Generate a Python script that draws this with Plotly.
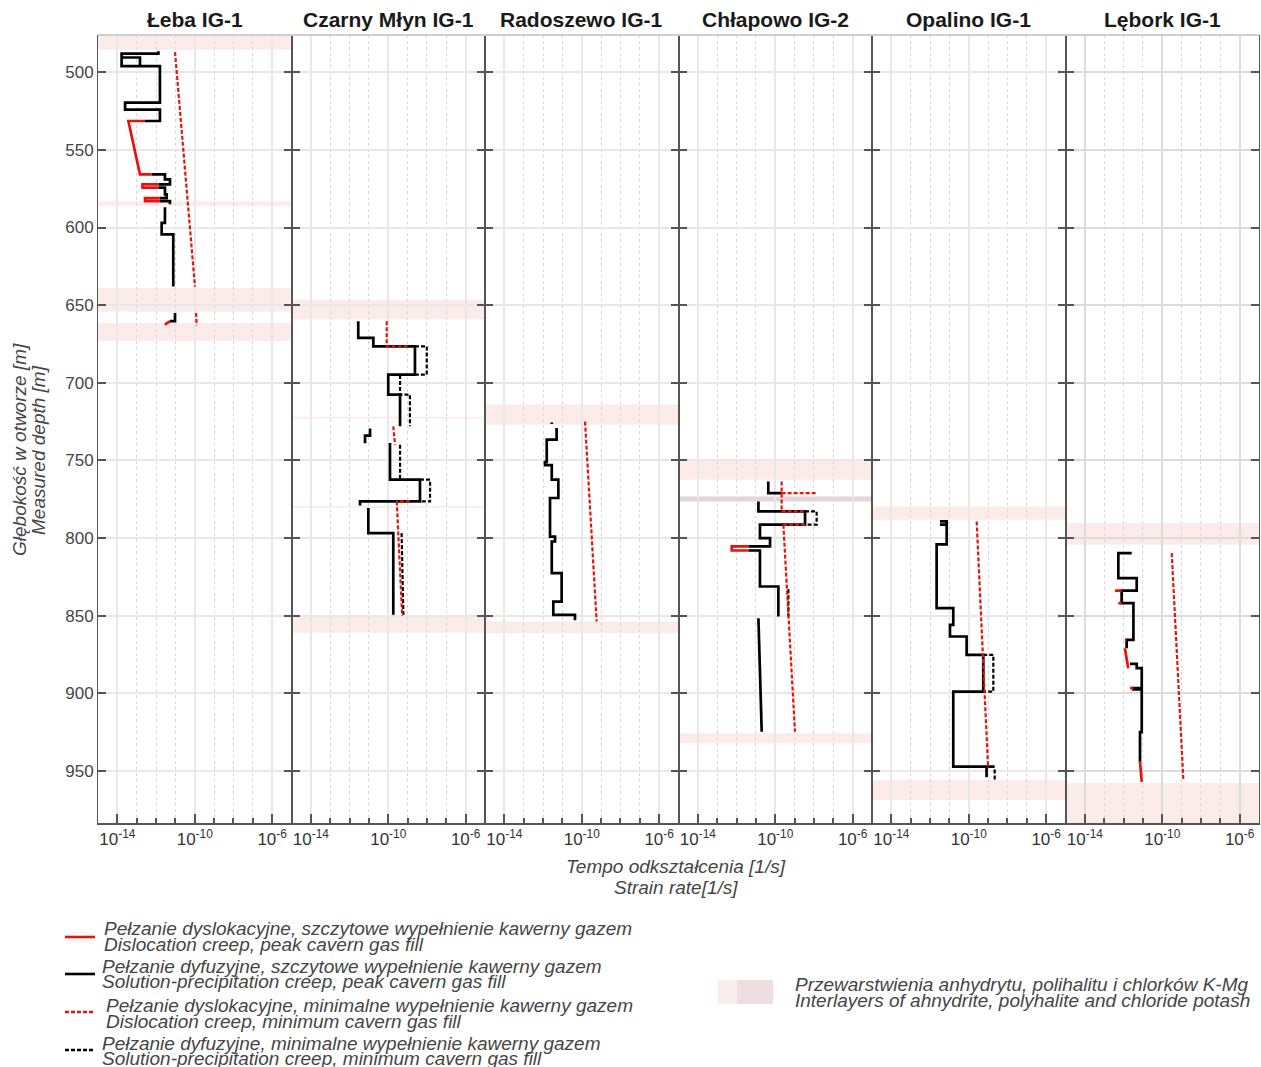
import plotly.graph_objects as go
from plotly.subplots import make_subplots

# ---------------- DATA (log10 strain rate [1/s] vs measured depth [m]) ----------------
WELLS = ["Łeba IG-1", "Czarny Młyn IG-1", "Radoszewo IG-1", "Chłapowo IG-2", "Opalino IG-1", "Lębork IG-1"]

DEPTH_TICKS = [500, 550, 600, 650, 700, 750, 800, 850, 900, 950]
RATE_TICKS = [1e-14, 1e-10, 1e-6]
RATE_TICK_TEXT = ["10<sup>-14</sup>", "10<sup>-10</sup>", "10<sup>-6</sup>"]
RATE_MINOR = [10.0 ** e for e in range(-15, -4)]

# --- Łeba IG-1
leba_sol_peak_d = [486.5, 488, 488, 496, 496, 519.5, 519.5, 524, 524, 531.4, 531.4, None,
                   490.5, 490.5, 496, None,
                   565.8, 565.8, 569, 569, 572.2, 572.2, None,
                   574.3, 574.3, 578.7, 578.7, 581, 581, None,
                   583, 583, 585, None,
                   587, 597, 597, 604.4, 604.4, 638, None,
                   655, 660.3, 660.3]
leba_sol_peak_r = [-11.88, -11.88, -13.78, -13.78, -11.80, -11.80, -13.60, -13.60, -11.80, -11.80, -12.57, None,
                   -13.78, -12.83, -12.83, None,
                   -12.23, -11.54, -11.54, -11.28, -11.28, -11.88, None,
                   -11.88, -11.54, -11.54, -11.45, -11.45, -11.80, None,
                   -11.80, -11.28, -11.28, None,
                   -11.54, -11.54, -11.71, -11.71, -11.11, -11.11, None,
                   -11.02, -11.02, -11.28]
leba_dis_peak_d = [531.4, 531.4, 565.8, 565.8, None, 572.2, 572.2, 574.3, 574.3, None,
                   581, 581, 583, 583, None, 660.3, 662.5]
leba_dis_peak_r = [-12.57, -13.43, -12.83, -12.23, None, -11.88, -12.70, -12.70, -11.88, None,
                   -11.80, -12.57, -12.57, -11.80, None, -11.28, -11.54]
leba_dis_min_d = [487, 638, None, 655, 663]
leba_dis_min_r = [-11.02, -9.99, None, -9.93, -9.90]
leba_sol_min_d = []
leba_sol_min_r = []
leba_bands = [(476, 485.5), (583, 586), (639, 654), (661.5, 673)]

# --- Czarny Młyn IG-1
cm_sol_peak_d = [660.3, 671.1, 671.1, 676.5, 676.5, 694.7, 694.7, 707.6, 707.6, 728, None,
                 729.5, 734, 734, 739, None,
                 738.8, 762.4, 762.4, 776.4, 776.4, 779, None,
                 780.7, 796.8, 796.8, 849.4]
cm_sol_peak_r = [-11.55, -11.55, -10.77, -10.77, -8.62, -8.62, -10.0, -10.0, -9.39, -9.39, None,
                 -10.94, -10.94, -11.20, -11.20, None,
                 -9.91, -9.91, -8.36, -8.36, -11.46, -11.46, None,
                 -11.03, -11.03, -9.74, -9.74]
cm_dis_peak_d = []
cm_dis_peak_r = []
cm_dis_min_d = [660.3, 676.5, 676.5, None, 728, 739.9, None, 776.4, 776.4, None, 776.4, 850]
cm_dis_min_r = [-10.08, -10.08, -9.0, None, -9.74, -9.65, None, -8.88, -9.56, None, -9.56, -9.28]
cm_sol_min_d = [676.5, 676.5, 694.7, 694.7, None, 695, 707.6, 707.6, 728, None, 739.9, 762.4, None,
                762.4, 762.4, 776.4, 776.4, None, 796.8, 849.4]
cm_sol_min_r = [-8.62, -8.01, -8.01, -8.62, None, -9.39, -9.39, -8.88, -8.88, None, -9.39, -9.39, None,
                -8.36, -7.84, -7.84, -8.36, None, -9.31, -9.22]
cm_bands = [(646.5, 659), (721.8, 723), (779.3, 780.5), (850.5, 861)]

# --- Radoszewo IG-1
rad_sol_peak_d = [725.5, 726.5, None, 729.1, 736.6, 736.6, 751, 751, 753, 753, 762.4, 762.4, 774.2, 774.2,
                  799, 799, 802.2, 802.2, 822.6, 822.6, 840.9, 840.9, 849.4, 849.4, 853]
rad_sol_peak_r = [-11.55, -11.55, None, -11.30, -11.30, -11.81, -11.81, -11.90, -11.90, -11.55, -11.55,
                  -11.21, -11.21, -11.64, -11.64, -11.38, -11.38, -11.55, -11.55, -11.04, -11.04, -11.47,
                  -11.47, -10.35, -10.35]
rad_dis_peak_d = []
rad_dis_peak_r = []
rad_dis_min_d = [725, 853.7]
rad_dis_min_r = [-9.83, -9.23]
rad_sol_min_d = []
rad_sol_min_r = []
rad_bands = [(714, 727), (853.7, 861.3)]

# --- Chłapowo IG-2
chl_sol_peak_d = [763.5, 771, 771, None,
                  776.4, 782.8, 782.8, 791.4, 791.4, 800, 800, 805.4, 805.4, None,
                  808, 808, 831.2, 831.2, 850.5, None,
                  851.6, 924.7]
chl_sol_peak_r = [-10.36, -10.36, -9.67, None,
                  -10.87, -10.87, -8.46, -8.46, -10.79, -10.79, -10.27, -10.27, -11.39, None,
                  -11.39, -10.79, -10.79, -9.84, -9.84, None,
                  -10.87, -10.70]
chl_dis_peak_d = [805.4, 805.4, 808, 808]
chl_dis_peak_r = [-11.39, -12.25, -12.25, -11.39]
chl_dis_min_d = [763.5, 782.8, 782.8, None, 771, 771, None, 791.4, 791.4, None, 791.4, 924.7]
chl_dis_min_r = [-9.67, -9.67, -8.46, None, -9.67, -7.86, None, -8.46, -9.58, None, -9.58, -8.98]
chl_sol_min_d = [782.8, 782.8, 791.4, 791.4, None, 833, 850.5]
chl_sol_min_r = [-8.46, -7.86, -7.86, -8.46, None, -9.32, -9.32]
chl_bands = [(749.5, 762.4), (925.7, 932.1)]
chl_dark_bands = [(773.2, 776.4)]

# --- Opalino IG-1
opa_sol_peak_d = [789.3, 789.3, 791.4, 791.4, None,
                  789.3, 804, 804, 845.1, 845.1, 855.9, 855.9, 863.4, 863.4, 875.2, 875.2, 898.9, 898.9,
                  947.2, 947.2, None, 947.5, 954]
opa_sol_peak_r = [-11.49, -11.14, -11.14, -11.49, None,
                  -11.14, -11.14, -11.66, -11.66, -10.80, -10.80, -10.97, -10.97, -10.11, -10.11, -9.25,
                  -9.25, -10.80, -10.80, -8.66, None, -9.08, -9.08]
opa_dis_peak_d = []
opa_dis_peak_r = []
opa_dis_min_d = [789.3, 948]
opa_dis_min_r = [-9.59, -9.0]
opa_sol_min_d = [875.2, 875.2, 898.9, 898.9, None, 949, 956]
opa_sol_min_r = [-9.25, -8.73, -8.73, -9.25, None, -8.66, -8.66]
opa_bands = [(779.6, 788.2), (955.8, 968.7)]

# --- Lębork IG-1
leb_sol_peak_d = [809.7, 809.7, 825.8, 825.8, 833.8, 833.8, 841.9, 841.9, 865.5, 865.5, 871, None,
                  881, 881, 883.8, 883.8, 896.7, 896.7, 897.5, 897.5, 925, 925, 944]
leb_sol_peak_r = [-11.58, -12.27, -12.27, -11.32, -11.32, -12.10, -12.10, -11.49, -11.49, -11.84, -11.84, None,
                  -11.67, -11.32, -11.32, -11.06, -11.06, -11.49, -11.49, -11.06, -11.06, -11.15, -11.15]
leb_dis_peak_d = [833.8, 833.8, None, 841.9, 841.9, None, 865.5, 865.5, None, 871, 883.8, None,
                  896.7, 896.7, None, 944, 957]
leb_dis_peak_r = [-12.10, -12.44, None, -12.10, -12.27, None, -11.84, -11.93, None, -11.93, -11.76, None,
                  -11.49, -11.67, None, -11.15, -11.06]
leb_dis_min_d = [809.7, 955.8]
leb_dis_min_r = [-9.51, -8.91]
leb_sol_min_d = []
leb_sol_min_r = []
leb_bands = [(790.3, 804.3), (957.8, 990)]

SERIES = [
    (leba_sol_peak_d, leba_sol_peak_r, leba_dis_peak_d, leba_dis_peak_r, leba_dis_min_d, leba_dis_min_r, leba_sol_min_d, leba_sol_min_r, leba_bands, []),
    (cm_sol_peak_d, cm_sol_peak_r, cm_dis_peak_d, cm_dis_peak_r, cm_dis_min_d, cm_dis_min_r, cm_sol_min_d, cm_sol_min_r, cm_bands, []),
    (rad_sol_peak_d, rad_sol_peak_r, rad_dis_peak_d, rad_dis_peak_r, rad_dis_min_d, rad_dis_min_r, rad_sol_min_d, rad_sol_min_r, rad_bands, []),
    (chl_sol_peak_d, chl_sol_peak_r, chl_dis_peak_d, chl_dis_peak_r, chl_dis_min_d, chl_dis_min_r, chl_sol_min_d, chl_sol_min_r, chl_bands, chl_dark_bands),
    (opa_sol_peak_d, opa_sol_peak_r, opa_dis_peak_d, opa_dis_peak_r, opa_dis_min_d, opa_dis_min_r, opa_sol_min_d, opa_sol_min_r, opa_bands, []),
    (leb_sol_peak_d, leb_sol_peak_r, leb_dis_peak_d, leb_dis_peak_r, leb_dis_min_d, leb_dis_min_r, leb_sol_min_d, leb_sol_min_r, leb_bands, []),
]

LEGEND_LINES = [
    ("Pełzanie dyslokacyjne, szczytowe wypełnienie kawerny gazem", "Dislocation creep, peak cavern gas fill"),
    ("Pełzanie dyfuzyjne, szczytowe wypełnienie kawerny gazem", "Solution-precipitation creep, peak cavern gas fill"),
    ("Pełzanie dyslokacyjne, minimalne wypełnienie kawerny gazem", "Dislocation creep, minimum cavern gas fill"),
    ("Pełzanie dyfuzyjne, minimalne wypełnienie kawerny gazem", "Solution-precipitation creep, minimum cavern gas fill"),
]
BAND_LEGEND = ("Przewarstwienia anhydrytu, polihalitu i chlorków K-Mg",
               "Interlayers of ahnydrite, polyhalite and chloride potash")

# ---------------- FIGURE ----------------
W, H = 1261, 1067
L, R, T, B = 98, 1259, 35, 823


def px(x):
    return (x - L) / (R - L)


def py(y):
    return (B - y) / (B - T)


def pw(vals):
    return [None if v is None else 10.0 ** v for v in vals]


FONT = "Liberation Sans, Arial, sans-serif"
BAND_COLOR = "rgb(251,236,233)"
DARK_BAND_COLOR = "rgb(228,212,218)"
TXT = "#454545"

fig = make_subplots(rows=1, cols=6, shared_yaxes=True, horizontal_spacing=0)

dot = "4px,2px"
for i, (spd, spr, dpd, dpr, dmd, dmr, smd, smr, bands, dbands) in enumerate(SERIES, start=1):
    if smd:
        fig.add_trace(go.Scatter(x=pw(smr), y=smd, mode="lines", connectgaps=False,
                                 line=dict(color="black", width=2.2, dash=dot), showlegend=False), row=1, col=i)
    fig.add_trace(go.Scatter(x=pw(spr), y=spd, mode="lines", connectgaps=False,
                             line=dict(color="black", width=2.7), showlegend=False), row=1, col=i)
    if dpd:
        fig.add_trace(go.Scatter(x=pw(dpr), y=dpd, mode="lines", connectgaps=False,
                                 line=dict(color="#e8120c", width=2.7), showlegend=False), row=1, col=i)
    fig.add_trace(go.Scatter(x=pw(dmr), y=dmd, mode="lines", connectgaps=False,
                             line=dict(color="#e8120c", width=2.2, dash=dot), showlegend=False), row=1, col=i)
    xr = "x domain" if i == 1 else f"x{i} domain"
    yr = "y" if i == 1 else f"y{i}"
    for (a, b) in bands:
        fig.add_shape(type="rect", xref=xr, yref=yr, x0=0, x1=1, y0=a, y1=b,
                      fillcolor=BAND_COLOR, line=dict(width=0), layer="below")
    for (a, b) in dbands:
        fig.add_shape(type="rect", xref=xr, yref=yr, x0=0, x1=1, y0=a, y1=b,
                      fillcolor=DARK_BAND_COLOR, line=dict(width=0), layer="below")

fig.update_xaxes(type="log", range=[-15, -5], tickvals=RATE_TICKS, ticktext=RATE_TICK_TEXT,
                 ticks="inside", ticklen=9, tickwidth=2, tickcolor="#555",
                 showline=True, linecolor="#555", linewidth=2, mirror=False,
                 showgrid=True, gridcolor="#e8e8e8", gridwidth=2,
                 tickfont=dict(family=FONT, size=17, color="#333"),
                 minor=dict(tickvals=RATE_MINOR, ticks="inside", ticklen=5, tickwidth=1.5, tickcolor="#555",
                            showgrid=True, gridcolor="#d8d8d8", griddash="dot", gridwidth=1),
                 zeroline=False)
fig.update_yaxes(range=[983.5, 476], tickvals=DEPTH_TICKS, ticks="inside", ticklen=8, tickwidth=2,
                 tickcolor="#555", showline=True, linecolor="#555", linewidth=1, mirror="ticks",
                 showgrid=True, gridcolor="#e8e8e8", gridwidth=2, zeroline=False,
                 tickfont=dict(family=FONT, size=17, color=TXT))
# last panel: slightly stronger grid, as in the reference
fig.update_xaxes(gridcolor="#dcdcdc", row=1, col=6)
fig.update_yaxes(gridcolor="#dcdcdc", row=1, col=6)

# top edge line
fig.add_shape(type="line", xref="paper", yref="paper", x0=0, x1=1, y0=1, y1=1,
              line=dict(color="#cfcfcf", width=2), layer="above")

annotations = []
for i, name in enumerate(WELLS):
    cx = (i + 0.5) / 6
    annotations.append(dict(x=cx, y=py(20), xref="paper", yref="paper", text=f"<b>{name}</b>",
                            showarrow=False, xanchor="center", yanchor="middle",
                            font=dict(family=FONT, size=21, color="#1a1a1a")))

annotations += [
    dict(x=px(676), y=py(866), xref="paper", yref="paper", text="<i>Tempo odkształcenia [1/s]</i>",
         showarrow=False, xanchor="center", yanchor="middle", font=dict(family=FONT, size=19, color=TXT)),
    dict(x=px(676), y=py(887), xref="paper", yref="paper", text="<i>Strain rate[1/s]</i>",
         showarrow=False, xanchor="center", yanchor="middle", font=dict(family=FONT, size=19, color=TXT)),
    dict(x=px(19), y=py(450), xref="paper", yref="paper", text="<i>Głębokość w otworze [m]</i>",
         showarrow=False, xanchor="center", yanchor="middle", textangle=-90,
         font=dict(family=FONT, size=19, color=TXT)),
    dict(x=px(38), y=py(450), xref="paper", yref="paper", text="<i>Measured depth [m]</i>",
         showarrow=False, xanchor="center", yanchor="middle", textangle=-90,
         font=dict(family=FONT, size=19, color=TXT)),
]

legend_styles = [("#e8120c", None), ("black", None), ("#e8120c", dot), ("black", dot)]
legend_y = [(928, 944, 937, 102), (966, 981, 974, 100), (1005, 1021, 1012, 104), (1043, 1058, 1050, 100)]
for (l1, l2), (col, dsh), (y1, y2, ys, xt) in zip(LEGEND_LINES, legend_styles, legend_y):
    fig.add_shape(type="line", xref="paper", yref="paper", x0=px(65), x1=px(95), y0=py(ys), y1=py(ys),
                  line=dict(color=col, width=2.6, dash=dsh))
    annotations.append(dict(x=px(xt), y=py(y1), xref="paper", yref="paper", text=f"<i>{l1}</i>",
                            showarrow=False, xanchor="left", yanchor="middle",
                            font=dict(family=FONT, size=19, color=TXT)))
    annotations.append(dict(x=px(xt), y=py(y2), xref="paper", yref="paper", text=f"<i>{l2}</i>",
                            showarrow=False, xanchor="left", yanchor="middle",
                            font=dict(family=FONT, size=19, color=TXT)))

fig.add_shape(type="rect", xref="paper", yref="paper", x0=px(718), x1=px(737), y0=py(1004), y1=py(980),
              fillcolor="rgb(250,236,236)", line=dict(width=0))
fig.add_shape(type="rect", xref="paper", yref="paper", x0=px(737), x1=px(773), y0=py(1004), y1=py(980),
              fillcolor="rgb(238,222,226)", line=dict(width=0))
annotations.append(dict(x=px(793), y=py(984), xref="paper", yref="paper", text=f"<i>{BAND_LEGEND[0]}</i>",
                        showarrow=False, xanchor="left", yanchor="middle",
                        font=dict(family=FONT, size=19, color=TXT)))
annotations.append(dict(x=px(793), y=py(1000), xref="paper", yref="paper", text=f"<i>{BAND_LEGEND[1]}</i>",
                        showarrow=False, xanchor="left", yanchor="middle",
                        font=dict(family=FONT, size=19, color=TXT)))

fig.update_layout(width=W, height=H, margin=dict(l=L, r=W - R, t=T, b=H - B),
                  paper_bgcolor="white", plot_bgcolor="white", showlegend=False,
                  annotations=annotations, font=dict(family=FONT))

fig.write_html("out.html", config={"displayModeBar": False},
               post_script="document.body.style.margin='0';document.body.style.padding='0';"
                           "document.body.style.overflow='hidden';")
